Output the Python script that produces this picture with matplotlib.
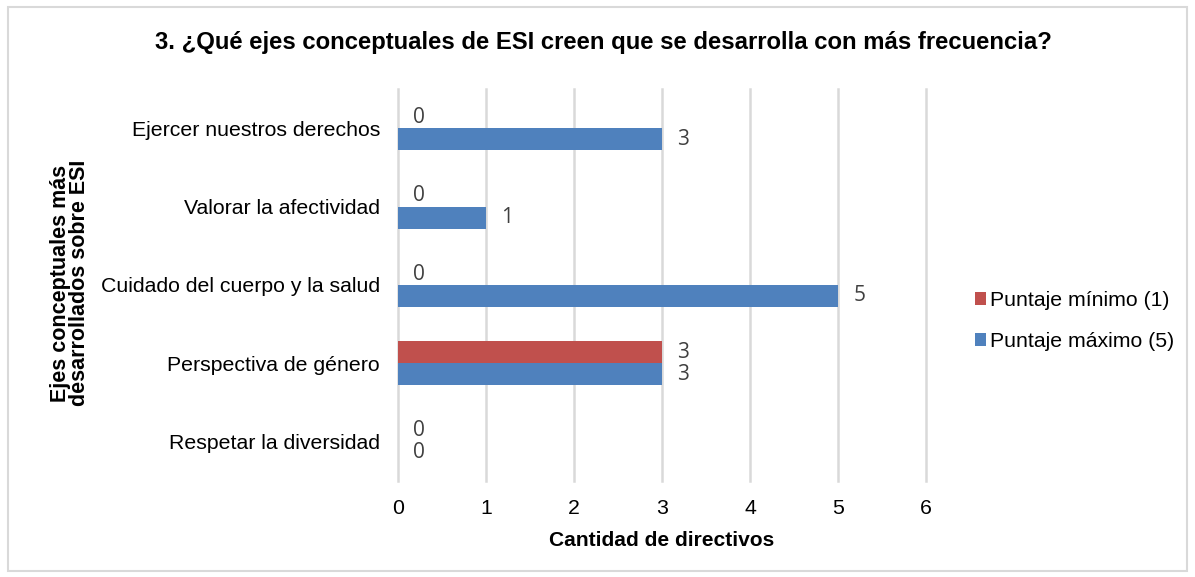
import matplotlib
matplotlib.use("Agg")
import matplotlib.pyplot as plt
from matplotlib.patches import Rectangle
import numpy as np

categories = ["Ejercer nuestros derechos", "Valorar la afectividad",
              "Cuidado del cuerpo y la salud", "Perspectiva de género",
              "Respetar la diversidad"]
minimo = [0, 0, 0, 3, 0]
maximo = [3, 1, 5, 3, 0]
series_names = ["Puntaje mínimo (1)", "Puntaje máximo (5)"]
xticks = [0, 1, 2, 3, 4, 5, 6]

plt.rcParams['font.family'] = ['Liberation Sans', 'DejaVu Sans']
fig = plt.figure(figsize=(11.95, 5.77), dpi=100)
ax = fig.add_axes([398/1195, 1-481/577, (926-398)/1195, (481-89)/577])

red = "#C0504D"
blue = "#4F81BD"
h = 0.28
y = np.arange(len(categories))
b_min = ax.barh(y - h/2, minimo, height=h, color=red, label=series_names[0], zorder=3)
b_max = ax.barh(y + h/2, maximo, height=h, color=blue, label=series_names[1], zorder=3)

lab_font = dict(family=['Open Sans', 'DejaVu Sans'], size=15, color="#404040")
for bars, vals in ((b_min, minimo), (b_max, maximo)):
    for rect, v in zip(bars, vals):
        ax.annotate(str(v), (rect.get_width(), rect.get_y() + rect.get_height()/2),
                    xytext=(11, 0), textcoords="offset points", va="center", ha="left",
                    **lab_font)

ax.set_xlim(0, 6)
ax.set_ylim(len(categories) - 0.5, -0.5)
ax.set_xticks(xticks)
ax.set_yticks(y)
ax.set_yticklabels(categories)
ax.tick_params(axis='both', length=0, labelsize=15.3, colors="black")
ax.tick_params(axis='x', pad=13)
ax.tick_params(axis='y', pad=13)
for s in ax.spines.values():
    s.set_visible(False)
ax.grid(axis='x', color="#D9D9D9", linewidth=1.8, zorder=0)
for gl in ax.get_xgridlines():
    gl.set_clip_on(False)
ax.set_axisbelow(True)

ax.set_xlabel("Cantidad de directivos", fontsize=15.1, fontweight='bold', labelpad=9)
fig.text(70/1195, 1-283/577, "Ejes conceptuales más\ndesarrollados sobre ESI", rotation=90,
         ha='center', va='center', fontsize=15.5, fontweight='bold', linespacing=0.9)

fig.text(603/1195, 1-42/577, "3. ¿Qué ejes conceptuales de ESI creen que se desarrolla con más frecuencia?",
         ha='center', va='center', fontsize=17.2, fontweight='bold')

fig.legend(handles=[b_min, b_max], labels=series_names, loc='center left',
           bbox_to_anchor=(966/1195, 1-321/577), frameon=False, fontsize=15.3,
           handlelength=0.55, handleheight=0.55, handletextpad=0.2, labelspacing=1.0,
           borderaxespad=0)

fig.patches.append(Rectangle((8/1195, 1-571/577), (1187-8)/1195, (571-7)/577,
                             transform=fig.transFigure, fill=False,
                             edgecolor="#D9D9D9", linewidth=1.5))

fig.savefig("out.png", dpi=100)
